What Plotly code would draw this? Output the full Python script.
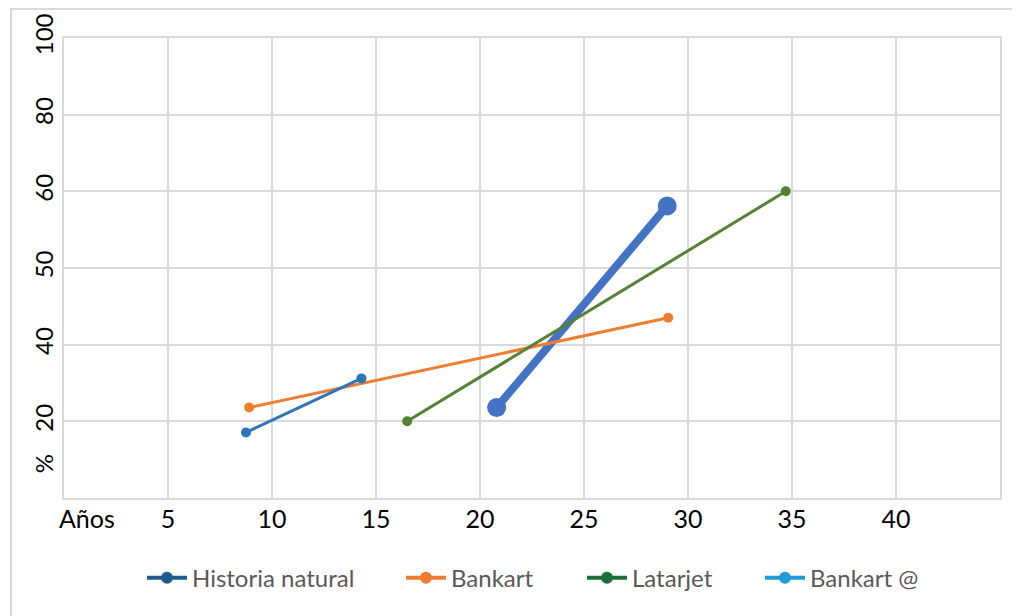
import numpy as np
import plotly.graph_objects as go

# ---- data ----
SERIES = ["Historia natural", "Bankart", "Latarjet", "Bankart @"]
HN_X = [20.8, 29.0]
HN_Y = [23.6, 58.1]
BK_X = [8.9, 29.05]
BK_Y = [23.6, 43.5]
LT_X = [16.5, 34.7]
LT_Y = [20.0, 60.0]
BA_X = [8.75, 14.3]
BA_Y = [17.1, 31.2]

# x axis labels
X_TICK_POS = [1.1, 5, 10, 15, 20, 25, 30, 35, 40]
X_TICK_TEXT = ["Años", "5", "10", "15", "20", "25", "30", "35", "40"]
X_GRID = [0, 5, 10, 15, 20, 25, 30, 35, 40, 45]

# y axis: non-linear percent labels placed on equally spaced gridlines
Y_PCT_LEVELS = [0, 20, 40, 50, 60, 80, 100]
Y_GRID = [0, 1, 2, 3, 4, 5, 6]
Y_TICK_POS = [0.4, 1, 2, 3, 4, 5, 6]
Y_TICK_TEXT = ["%", "20", "40", "50", "60", "80", "100"]

LINE_COLORS = ["#4472C4", "#ED7D31", "#548235", "#2E75B6"]
LEGEND_COLORS = ["#1F5C8A", "#ED7D31", "#1E6E37", "#1F9BD7"]
LEGEND_TEXT_START_PX = [193, 452, 633, 811]


def to_level(pct):
    return np.interp(pct, Y_PCT_LEVELS, Y_GRID)


FONT = "Lato"
PAGE_OFF = 8  # default body margin of the html page
L, T = 64 - PAGE_OFF, 38 - PAGE_OFF
W, H = 1020, 616
PW, PH = 936, 460
R, B = W - L - PW, H - T - PH

fig = go.Figure()

data = [(HN_X, HN_Y, 8, 19), (BK_X, BK_Y, 3, 10), (LT_X, LT_Y, 3, 10), (BA_X, BA_Y, 3, 10)]
for (xs, ys, lw, ms), col in zip(data, LINE_COLORS):
    fig.add_trace(go.Scatter(
        x=xs, y=to_level(ys), mode="lines+markers",
        line=dict(color=col, width=lw), marker=dict(color=col, size=ms),
        showlegend=False, hoverinfo="skip"))

legend_names = ["legend", "legend2", "legend3", "legend4"]
for name, col, lg in zip(SERIES, LEGEND_COLORS, legend_names):
    fig.add_trace(go.Scatter(
        x=[None], y=[None], mode="lines+markers", name=name, legend=lg,
        line=dict(color=col, width=4), marker=dict(color=col, size=12)))

grid = dict(showgrid=True, gridcolor="#D9D9D9", gridwidth=2, zeroline=False,
            showticklabels=False, ticks="", showline=True, mirror=True,
            linecolor="#D9D9D9", linewidth=2, automargin=False)

legend_common = dict(orientation="h", xanchor="left", y=-0.174, yanchor="middle",
                     font=dict(family=FONT, size=24, color="#595959"),
                     itemwidth=40, bgcolor="rgba(0,0,0,0)")
legends = {}
for lg, px in zip(legend_names, LEGEND_TEXT_START_PX):
    legends[lg] = dict(x=(px - 51 - 64) / PW, **legend_common)

fig.update_layout(
    width=W, height=H,
    margin=dict(l=L, r=R, t=T, b=B),
    paper_bgcolor="white", plot_bgcolor="white",
    font=dict(family=FONT, color="black", size=19),
    xaxis=dict(range=[0, 45], tickmode="array", tickvals=X_GRID, **grid),
    yaxis=dict(range=[0, 6], tickmode="array", tickvals=Y_GRID, **grid),
    xaxis2=dict(range=[0, 45], overlaying="x", anchor="y", side="bottom",
                tickmode="array", tickvals=X_TICK_POS, ticktext=X_TICK_TEXT,
                showgrid=False, zeroline=False, ticks="", showline=False,
                automargin=False, ticklabelstandoff=4,
                tickfont=dict(family=FONT, size=25, color="black")),
    yaxis2=dict(range=[0, 6], overlaying="y", anchor="x", side="left",
                tickmode="array", tickvals=Y_TICK_POS, ticktext=Y_TICK_TEXT,
                tickangle=-90, showgrid=False, zeroline=False, ticks="",
                showline=False, ticklabelstandoff=5, automargin=False,
                tickfont=dict(family=FONT, size=24, color="black")),
    shapes=[dict(type="rect", xref="paper", yref="paper",
                 x0=(11 - 64) / PW, x1=1.05, y0=-0.4, y1=1 + (T - 1) / PH,
                 line=dict(color="#D9D9D9", width=2), fillcolor="rgba(0,0,0,0)",
                 layer="below")],
    **legends,
)

# invisible trace on secondary axes so they render
fig.add_trace(go.Scatter(x=[None], y=[None], xaxis="x2", yaxis="y2",
                         showlegend=False, hoverinfo="skip"))

fig.write_html("out.html")
